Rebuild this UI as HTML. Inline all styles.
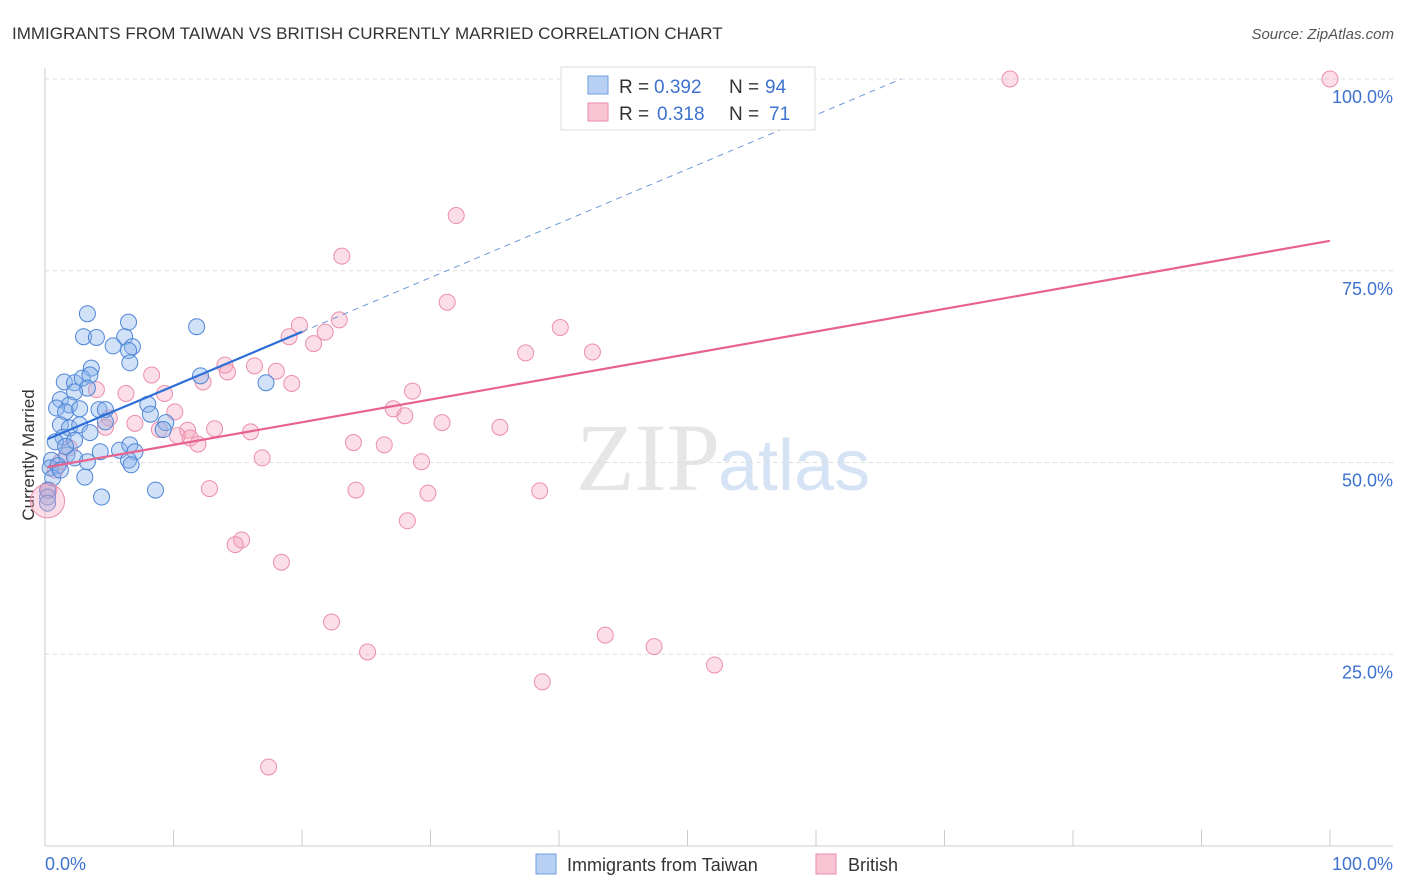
<!DOCTYPE html>
<html><head><meta charset="utf-8"><style>
body{margin:0;background:#fff;font-family:"Liberation Sans",sans-serif}
</style></head><body>
<svg id="c" width="1406" height="892" style="display:block">
<text x="12" y="39" font-size="17" fill="#333">IMMIGRANTS FROM TAIWAN VS BRITISH CURRENTLY MARRIED CORRELATION CHART</text>
<text x="1394" y="39" font-size="15" fill="#555" font-style="italic" text-anchor="end">Source: ZipAtlas.com</text>
<text x="720" y="490" font-size="96" fill="#e6e6e6" text-anchor="end" font-family="Liberation Serif">ZIP</text>
<text x="718" y="490" font-size="72" fill="#d6e3f5">atlas</text>
<text transform="translate(34,455) rotate(-90)" font-size="17" fill="#333" text-anchor="middle">Currently Married</text>
<g id="grid"></g><g id="pts"></g><g id="lines"></g>
<g>
<rect x="561" y="67" width="254" height="63" fill="#fff" stroke="#ddd"/>
<rect x="588" y="76" width="20" height="18" fill="#b7d0f3" stroke="#6f9fe0"/>
<rect x="588" y="103" width="20" height="18" fill="#f9c5d5" stroke="#ea8eab"/>
<g font-size="19">
<text x="619" y="93" fill="#333">R =</text><text x="654" y="93" fill="#3d72cf">0.392</text>
<text x="729" y="93" fill="#333">N =</text><text x="765" y="93" fill="#3d72cf">94</text>
<text x="619" y="120" fill="#333">R =</text><text x="657" y="120" fill="#3d72cf">0.318</text>
<text x="729" y="120" fill="#333">N =</text><text x="769" y="120" fill="#3d72cf">71</text>
</g>
</g>
<g>
<rect x="536" y="854" width="20" height="20" fill="#b7d0f3" stroke="#6f9fe0"/>
<text x="567" y="871" font-size="18" fill="#333">Immigrants from Taiwan</text>
<rect x="816" y="854" width="20" height="20" fill="#f9c5d5" stroke="#ea8eab"/>
<text x="848" y="871" font-size="18" fill="#333">British</text>
</g>
</svg>
<script>
const blueX=[3.3,3.0,4.0,6.5,6.2,5.3,6.8,6.5,6.6,11.8,12.1,17.2,3.6,1.5,2.3,2.9,3.5,3.3,2.3,1.2,1.9,0.9,1.6,2.7,4.2,4.7,4.7,8.0,8.2,9.4,9.2,1.2,1.9,2.7,3.5,1.4,2.3,0.8,4.3,5.8,6.6,7.0,6.5,6.7,1.7,2.3,3.3,0.5,0.4,1.0,0.6,3.1,4.4,8.6,0.2,0.2,0.2,1.2,1.6];
const blueY=[69.4,66.4,66.3,68.3,66.4,65.2,65.1,64.6,63.0,67.7,61.3,60.4,62.3,60.5,60.4,61.0,61.4,59.7,59.2,58.2,57.5,57.1,56.6,57.0,56.9,56.9,55.3,57.6,56.3,55.2,54.3,54.9,54.5,54.9,53.9,53.3,52.9,52.7,51.4,51.6,52.3,51.4,50.3,49.7,51.0,50.6,50.1,50.3,49.3,49.6,48.0,48.1,45.5,46.4,46.4,45.5,44.7,49.0,52.1];
const pinkX=[75.1,100,32,23.1,31.3,22.9,19.8,21.8,20.9,19.0,40.1,37.4,42.6,14.0,16.3,14.2,18.0,8.3,12.3,19.2,28.6,4.0,6.3,9.3,27.1,28.0,10.1,5.0,30.9,35.4,7.0,4.7,8.9,11.1,13.2,16.0,10.3,11.3,11.9,24.0,26.4,1.9,16.9,29.3,1.2,0.8,0.3,12.8,24.2,29.8,38.5,28.2,15.3,14.8,18.4,22.3,25.1,43.6,47.4,52.1,38.7,17.4,50.2];
const pinkY=[100,100,82.2,76.9,70.9,68.6,67.9,67.0,65.5,66.4,67.6,64.3,64.4,62.7,62.6,61.8,61.9,61.4,60.5,60.3,59.3,59.5,59.0,59.0,57.0,56.1,56.6,55.8,55.2,54.6,55.1,54.6,54.3,54.2,54.4,54.0,53.5,53.2,52.4,52.6,52.3,51.9,50.6,50.1,50.1,49.0,46.4,46.6,46.4,46.0,46.3,42.4,39.9,39.3,37.0,29.2,25.3,27.5,26.0,23.6,21.4,10.3,98.6];
const yTicks=[100,75,50,25];
const xTicks=[0,10,20,30,40,50,60,70,80,90,100];
const blueFit=[52.9,123.6];
const pinkFit=[49.4,78.9];
const sx=v=>45+v*12.85, sy=v=>846-v*7.67;
const NS='http://www.w3.org/2000/svg';
function mk(p,t,a){const e=document.createElementNS(NS,t);for(const k in a)e.setAttribute(k,a[k]);p.appendChild(e);return e;}
const g=document.getElementById('grid'),P=document.getElementById('pts'),L=document.getElementById('lines');
yTicks.forEach(v=>{
 const l=mk(g,'line',{x1:45,x2:1393,y1:sy(v),y2:sy(v),stroke:'#ddd','stroke-dasharray':'4,4'});
 
 
 const t=mk(g,'text',{x:1393,y:sy(v)+24,'font-size':18,fill:'#3d72cf','text-anchor':'end'});t.textContent=v.toFixed(1)+'%';
 
 
});
mk(g,'line',{x1:45,x2:45,y1:68,y2:846,stroke:'#ccc'});
mk(g,'line',{x1:45,x2:1393,y1:846,y2:846,stroke:'#ccc'});
xTicks.forEach(v=>{const l=mk(g,'line',{x1:sx(v),x2:sx(v),y1:830,y2:846,stroke:'#ccc'});
 
 });
[[0,'0.0%','start',45],[100,'100.0%','end',1393]].forEach(d=>{const t=mk(g,'text',{x:d[3],y:870,'font-size':18,fill:'#3d72cf','text-anchor':d[2]});t.textContent=d[1];
 
 });
pinkX.forEach((x,i)=>{const c=mk(P,'circle',{cx:sx(x),cy:sy(pinkY[i]),r:8,fill:'rgba(244,160,185,0.35)',stroke:'#ec8fac','stroke-width':1});
 
 });
blueX.forEach((x,i)=>{const c=mk(P,'circle',{cx:sx(x),cy:sy(blueY[i]),r:8,fill:'rgba(140,180,235,0.4)',stroke:'#4f86d8','stroke-width':1});
 
 });
const big=mk(P,'circle',{cx:sx(0.2),cy:sy(45),r:17,fill:'rgba(244,160,185,0.35)',stroke:'#ec8fac'});


const bf=x=>blueFit[0]+(blueFit[1]-blueFit[0])*x/100;
const xEnd=(100-blueFit[0])/(blueFit[1]-blueFit[0])*100;
let l=mk(L,'line',{x1:sx(0.2),y1:sy(bf(0.2)),x2:sx(20),y2:sy(bf(20)),stroke:'#2d6fd6','stroke-width':2.2});


l=mk(L,'line',{x1:sx(20),y1:sy(bf(20)),x2:sx(xEnd),y2:sy(100),stroke:'#6d98dc','stroke-width':1,'stroke-dasharray':'6,5'});


l=mk(L,'line',{x1:sx(0.2),y1:sy(pinkFit[0]),x2:sx(100),y2:sy(pinkFit[1]),stroke:'#e8628e','stroke-width':2.2});


</script>
</body></html>
